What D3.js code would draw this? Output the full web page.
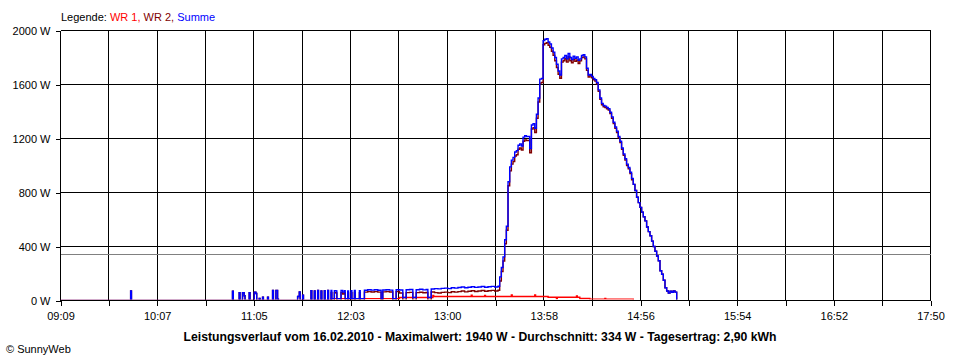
<!DOCTYPE html>
<html><head><meta charset="utf-8">
<script src="https://cdn.jsdelivr.net/npm/d3@7"></script>
<style>
body{margin:0;background:#fff}
svg{display:block}
text{font-family:"Liberation Sans",Arial,sans-serif;}
</style>
</head><body>
<svg id="c" width="960" height="360"></svg>
<script>
// ---------- DATA ----------
const xTickLabels = ["09:09","10:07","11:05","12:03","13:00","13:58","14:56","15:54","16:52","17:50"];
const yTicks = [0, 400, 800, 1200, 1600, 2000];
const durchschnitt = 334;
const legendItems = [["WR 1", "#ff0000"], ["WR 2", "#800000"], ["Summe", "#0000ff"]];
const titel = "Leistungsverlauf vom 16.02.2010 - Maximalwert: 1940 W - Durchschnitt: 334 W - Tagesertrag: 2,90 kWh";

// WR 1 [time, W]
const wr1 = [["09:09",0],["11:51",14],["12:32",22],["12:52",38],["12:52:30",30],["13:15",40],["13:15:30",30],
  ["13:23",38],["13:23:30",30],["13:39",42],["13:39:30",30],["13:53",42],["13:53:30",30],["14:01",24],["14:06",14],
  ["14:06:30",24],["14:18",34],["14:18:30",24],["14:20",15],["14:26",10],["14:35",16],["14:35:30",10],["14:52",0]];

// Summe [time, W]
const summe = [["09:09",0],["09:51",70],["09:51:30",0],
  ["10:52",68],["10:52:30",0],["10:56",58],["10:56:30",0],["10:58",58],["10:59",35],["10:59:30",0],["11:02",58],["11:02:30",0],
  ["11:05",62],["11:06",52],["11:06:30",0],["11:08",15],["11:08:30",0],["11:10",25],["11:10:30",0],["11:13",25],["11:13:30",0],
  ["11:16",75],["11:16:30",0],["11:18",75],["11:19",10],["11:19:30",0],
  ["11:31",30],["11:32",64],["11:32:30",0],["11:34",40],["11:34:30",0],
  ["11:39",72],["11:39:30",0],["11:41",70],["11:41:30",0],["11:43",74],["11:43:30",0],["11:45",70],["11:45:30",0],["11:47",72],["11:47:30",0],["11:49",74],["11:49:30",0],
  ["11:51",74],["11:51:30",14],["11:53",72],["11:54",70],["11:54:30",14],["11:57",74],["11:58",62],["11:59",72],["11:59:30",14],["12:01",70],["12:01:30",14],
  ["12:03",72],["12:03:30",14],["12:05",74],["12:05:30",14],["12:08",72],["12:08:30",14],
  ["12:11",76],["12:13",80],["12:15",77],["12:17",80],["12:19",76],["12:21",14],
  ["12:22",78],["12:24",80],["12:26",77],["12:28",14],
  ["12:30",80],["12:32",78],["12:34",22],
  ["12:36",80],["12:38",82],["12:40",22],
  ["12:42",80],["12:44",83],["12:46",79],["12:48",82],["12:49",22],
  ["12:51",85],["12:53",88],["12:55",86],["12:57",90],["12:59",92],["13:01",88],["13:03",95],["13:05",92],["13:07",96],["13:09",100],
  ["13:11",94],["13:13",98],["13:15",102],["13:17",97],["13:19",100],["13:21",104],["13:23",98],["13:25",102],["13:27",105],["13:29",100],["13:31",106],
  ["13:32",175],["13:33",245],["13:34",323],["13:35",450],["13:36",550],["13:37",880],["13:38",990],["13:39",1040],["13:40",1060],
  ["13:41",1100],["13:42",1110],["13:43",1150],["13:44",1160],["13:45",1145],["13:46",1210],["13:47",1220],["13:48",1215],["13:49",1215],
  ["13:50",1125],["13:51",1300],["13:52",1310],["13:53",1275],["13:54",1380],["13:55",1500],["13:56",1640],["13:57",1645],["13:58",1925],
  ["13:59",1935],["14:00",1940],["14:01",1915],["14:02",1900],["14:03",1870],["14:04",1840],["14:05",1800],["14:06",1750],["14:07",1700],
  ["14:08",1670],["14:09",1790],["14:10",1800],["14:11",1815],["14:12",1790],["14:13",1830],["14:14",1800],["14:15",1785],["14:16",1810],
  ["14:17",1795],["14:18",1805],["14:19",1780],["14:20",1790],["14:21",1815],["14:22",1820],["14:23",1805],["14:24",1720],["14:25",1670],
  ["14:26",1675],["14:27",1660],["14:28",1645],["14:29",1635],["14:30",1615],["14:31",1560],["14:32",1500],["14:33",1460],["14:34",1445],
  ["14:35",1440],["14:36",1430],["14:37",1420],["14:38",1395],["14:39",1360],["14:40",1320],["14:41",1285],["14:42",1255],["14:43",1215],
  ["14:44",1180],["14:45",1130],["14:46",1085],["14:47",1050],["14:48",1010],["14:49",985],["14:50",950],["14:51",905],["14:52",860],
  ["14:53",815],["14:54",765],["14:55",725],["14:56",690],["14:57",655],["14:58",620],["14:59",590],["15:00",545],["15:01",510],
  ["15:02",480],["15:03",440],["15:04",400],["15:05",365],["15:06",330],["15:07",295],["15:08",220],["15:09",195],["15:10",150],
  ["15:11",95],["15:12",70],["15:13",55],["15:14",68],["15:15",60],["15:16",70],["15:17",62],["15:18",0]];

// WR 2 [time, W]
const wr2 = [["09:09",0],["09:51",70],["09:51:30",0],
  ["10:52",68],["10:52:30",0],["10:56",58],["10:56:30",0],["10:58",58],["10:59",35],["10:59:30",0],["11:02",58],["11:02:30",0],
  ["11:05",62],["11:06",52],["11:06:30",0],["11:08",15],["11:08:30",0],["11:10",25],["11:10:30",0],["11:13",25],["11:13:30",0],
  ["11:16",75],["11:16:30",0],["11:18",75],["11:19",10],["11:19:30",0],
  ["11:31",30],["11:32",64],["11:32:30",0],["11:34",40],["11:34:30",0],
  ["11:39",72],["11:39:30",0],["11:41",70],["11:41:30",0],["11:43",74],["11:43:30",0],["11:45",70],["11:45:30",0],["11:47",72],["11:47:30",0],["11:49",74],["11:49:30",0],
  ["11:51",60],["11:51:30",0],["11:53",58],["11:54",56],["11:54:30",0],["11:57",60],["11:58",48],["11:59",58],["11:59:30",0],["12:01",56],["12:01:30",0],
  ["12:03",58],["12:03:30",0],["12:05",60],["12:05:30",0],["12:08",58],["12:08:30",0],
  ["12:11",62],["12:13",66],["12:15",63],["12:17",66],["12:19",62],["12:21",0],
  ["12:22",64],["12:24",66],["12:26",63],["12:28",0],
  ["12:30",66],["12:32",56],["12:34",0],
  ["12:36",58],["12:38",60],["12:40",0],
  ["12:42",58],["12:44",61],["12:46",57],["12:48",60],["12:49",0],
  ["12:51",63],["12:53",58],["12:55",56],["12:57",60],["12:59",62],["13:01",58],["13:03",65],["13:05",62],["13:07",66],["13:09",70],
  ["13:11",64],["13:13",68],["13:15",72],["13:17",67],["13:19",70],["13:21",74],["13:23",68],["13:25",72],["13:27",75],["13:29",70],["13:31",76],
  ["13:32",145],["13:33",215],["13:34",293],["13:35",420],["13:36",520],["13:37",850],["13:38",960],["13:39",1010],["13:40",1030],
  ["13:41",1070],["13:42",1080],["13:43",1120],["13:44",1130],["13:45",1115],["13:46",1180],["13:47",1190],["13:48",1185],["13:49",1185],
  ["13:50",1095],["13:51",1270],["13:52",1280],["13:53",1245],["13:54",1350],["13:55",1470],["13:56",1610],["13:57",1615],["13:58",1895],
  ["13:59",1905],["14:00",1910],["14:01",1891],["14:02",1876],["14:03",1846],["14:04",1816],["14:05",1776],["14:06",1726],["14:07",1676],
  ["14:08",1646],["14:09",1766],["14:10",1776],["14:11",1791],["14:12",1766],["14:13",1806],["14:14",1776],["14:15",1761],["14:16",1786],
  ["14:17",1771],["14:18",1781],["14:19",1756],["14:20",1775],["14:21",1800],["14:22",1805],["14:23",1790],["14:24",1705],["14:25",1655],
  ["14:26",1665],["14:27",1650],["14:28",1635],["14:29",1625],["14:30",1605],["14:31",1550],["14:32",1490],["14:33",1450],["14:34",1435],
  ["14:35",1430],["14:36",1420],["14:37",1410],["14:38",1385],["14:39",1350],["14:40",1310],["14:41",1275],["14:42",1245],["14:43",1205],
  ["14:44",1170],["14:45",1120],["14:46",1075],["14:47",1040],["14:48",1000],["14:49",975],["14:50",940],["14:51",895],["14:52",860],
  ["14:53",815],["14:54",765],["14:55",725],["14:56",690],["14:57",655],["14:58",620],["14:59",590],["15:00",545],["15:01",510],
  ["15:02",480],["15:03",440],["15:04",400],["15:05",365],["15:06",330],["15:07",295],["15:08",220],["15:09",195],["15:10",150],
  ["15:11",95],["15:12",70],["15:13",55],["15:14",68],["15:15",60],["15:16",70],["15:17",62],["15:18",0]];

// ---------- CHART ----------
const toMin = s => { const p = s.split(":").map(Number); return p[0]*60 + p[1] + (p[2] || 0)/60; };
const t0 = toMin(xTickLabels[0]), t1 = toMin(xTickLabels[xTickLabels.length-1]);
const svg = d3.select("#c");
const x = d3.scaleLinear().domain([t0, t1]).range([60.5, 930.5]);
const y = d3.scaleLinear().domain([0, 2000]).range([300.5, 30.5]);
const gridTimes = d3.range(19).map(i => t0 + i*(t1-t0)/18);

// grid
const grid = svg.append("g").attr("shape-rendering","crispEdges");
grid.selectAll(".v").data(gridTimes).join("line")
  .attr("x1", d => x(d)).attr("x2", d => x(d)).attr("y1", y(0)).attr("y2", y(2000))
  .attr("stroke","#000").attr("stroke-width",1);
grid.selectAll(".h").data(yTicks).join("line")
  .attr("x1", x(t0)).attr("x2", x(t1)).attr("y1", d => y(d)).attr("y2", d => y(d))
  .attr("stroke","#000").attr("stroke-width",1);
grid.append("line").attr("x1", x(t0)).attr("x2", x(t1))
  .attr("y1", Math.round(y(durchschnitt))-0.5).attr("y2", Math.round(y(durchschnitt))-0.5)
  .attr("stroke","#808080").attr("stroke-width",1);

// axes
const xAxis = svg.append("g").attr("transform", `translate(0,${y(0)})`)
  .call(d3.axisBottom(x).tickValues(gridTimes).tickSize(5).tickSizeOuter(0)
    .tickFormat((d,i) => i % 2 === 0 ? xTickLabels[i/2] : ""));
xAxis.select(".domain").remove();
xAxis.selectAll("line").attr("stroke","#000").attr("shape-rendering","crispEdges");
xAxis.selectAll("text").attr("y", 19.5).attr("dy", null).attr("fill","#000")
  .style("font-size","11px").style("font-family",'"Liberation Sans",Arial,sans-serif');

const yAxis = svg.append("g").attr("transform", `translate(${x(t0)},0)`)
  .call(d3.axisLeft(y).tickValues(yTicks).tickSize(5).tickPadding(5).tickSizeOuter(0).tickFormat(d => d + " W"));
yAxis.select(".domain").remove();
yAxis.selectAll("line").attr("stroke","#000").attr("shape-rendering","crispEdges");
yAxis.selectAll("text").attr("fill","#000").style("font-size","11px")
  .style("font-family",'"Liberation Sans",Arial,sans-serif');

// data
svg.append("clipPath").attr("id","clip").append("rect")
  .attr("x", 60).attr("y", 0).attr("width", 872).attr("height", 299.6);
const line = d3.line().x(d => x(toMin(d[0]))).y(d => y(d[1])).curve(d3.curveStepAfter);
const data = svg.append("g").attr("clip-path","url(#clip)");
[[wr1, legendItems[0][1]], [wr2, legendItems[1][1]], [summe, legendItems[2][1]]].forEach(([s, c]) => {
  data.append("path").datum(s).attr("d", line).attr("fill","none")
    .attr("stroke", c).attr("stroke-width", 1.4).attr("stroke-linejoin","miter");
});

// legend
const leg = svg.append("text").attr("x", 61).attr("y", 21).style("font-size","11px");
leg.append("tspan").attr("fill","#000").text("Legende: ");
legendItems.forEach(([n, c], i) => {
  leg.append("tspan").attr("fill", c).text(n + (i < legendItems.length-1 ? ", " : ""));
});

// title
svg.append("text").attr("x", 480).attr("y", 341).attr("text-anchor","middle")
  .attr("textLength", 593).attr("lengthAdjust","spacingAndGlyphs")
  .style("font-size","12px").style("font-weight","bold").attr("fill","#000").text(titel);

svg.append("text").attr("x", 6).attr("y", 353).style("font-size","11px").attr("fill","#000").text("© SunnyWeb");
</script>
</body></html>
